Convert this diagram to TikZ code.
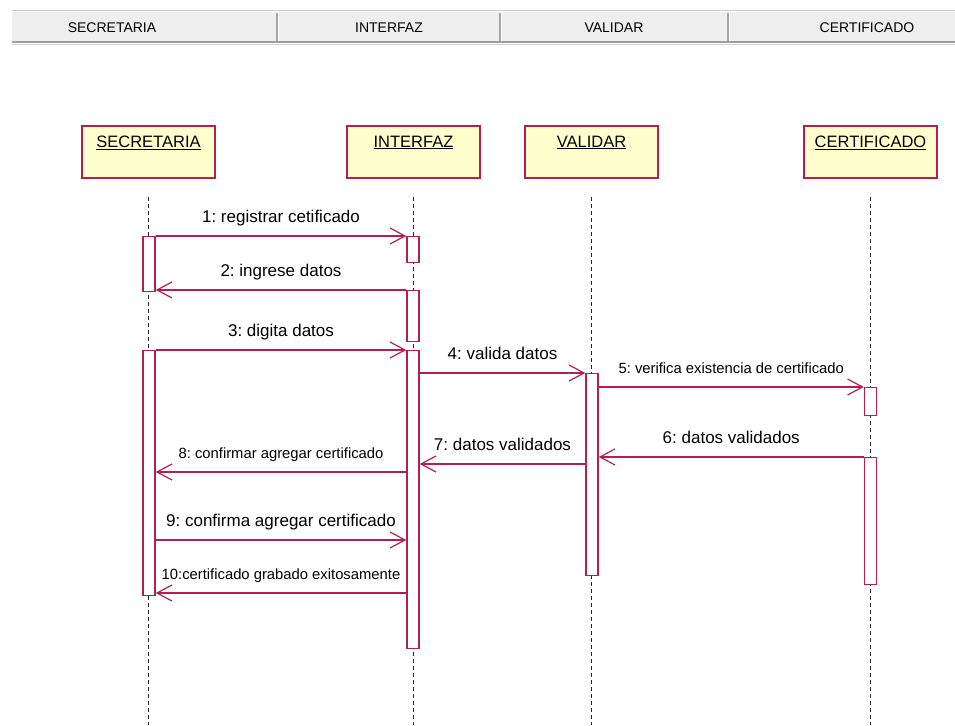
\documentclass[tikz,border=0pt]{standalone}
\usepackage{fontspec}
\setmainfont{Liberation Sans}
\usetikzlibrary{arrows.meta,positioning}
\frenchspacing

\definecolor{umlred}{RGB}{176,32,80}
\definecolor{umlyellow}{RGB}{255,255,206}
\definecolor{barbg}{RGB}{238,238,238}

\begin{document}
\begin{tikzpicture}[x=1pt,y=-1pt]

\tikzset{
  object/.style={draw=umlred,line width=1.5pt,fill=umlyellow,minimum width=133pt,minimum height=52pt,inner sep=0pt},
  objname/.style={font=\fontsize{16.5}{18}\selectfont,inner sep=0pt,anchor=base},
  lifeline/.style={draw=black!85,line width=1.5pt,dash pattern=on 4pt off 3pt},
  activation/.style={draw=umlred,line width=1.4pt,fill=white,minimum width=12pt,inner sep=0pt,anchor=north},
  msg/.style={draw=umlred,line width=1.4pt,-{Straight Barb[length=15pt,width=16pt,line width=1.2pt]}},
  msglabel/.style={font=\fontsize{17}{19}\selectfont,anchor=base,yshift=14pt,inner sep=0pt},
  smalllabel/.style={msglabel,font=\fontsize{14.8}{17}\selectfont},
  headtext/.style={font=\fontsize{14}{16}\selectfont,inner sep=0pt}
}

\useasboundingbox (0,0) rectangle (955,725);

%% Header bar
\fill[barbg] (12,12) rectangle (955,42);
\draw[gray!40,line width=1pt] (12,11) -- (955,11);
\draw[gray!75,line width=2pt] (12,42) -- (955,42);
\draw[gray!35,line width=1pt] (12,44.5) -- (955,44.5);
\foreach \x in {277,500,728}{
    \draw[gray!70,line width=1.2pt] (\x,13) -- (\x,41);
    \draw[white,line width=1pt] (\x+1.5,13) -- (\x+1.5,41);
}
\node[headtext] (hsec) at (112,27.5) {SECRETARIA};
\node[headtext] (hint) at (389,27.5) {INTERFAZ};
\node[headtext] (hval) at (614,27.5) {VALIDAR};
\node[headtext] (hcer) at (867,27.5) {CERTIFICADO};

%% Objects
\node[object] (sec) at (148.5,152) {};
\node[objname] (secname) at ([yshift=-22pt]sec.north) {\underline{SECRETARIA}};
\node[object] (int) at (413.5,152) {};
\node[objname] (intname) at ([yshift=-22pt]int.north) {\underline{INTERFAZ}};
\node[object] (val) at (591.5,152) {};
\node[objname] (valname) at ([yshift=-22pt]val.north) {\underline{VALIDAR}};
\node[object] (cer) at (870.5,152) {};
\node[objname] (cername) at ([yshift=-22pt]cer.north) {\underline{CERTIFICADO}};

%% Lifelines
\coordinate (bottom) at (0,725);
\foreach \o in {sec,int,val,cer}{
    \draw[lifeline] ([yshift=-18pt]\o.south) -- (\o.south |- bottom);
}

%% Activations
\node[activation,minimum height=55pt]  (sec1) at (149,236) {};
\node[activation,minimum height=245pt] (sec2) at (149,350) {};
\node[activation,minimum height=26pt]  (int1) at (413,236) {};
\node[activation,minimum height=51pt]  (int2) at (413,290) {};
\node[activation,minimum height=298pt] (int3) at (413,350) {};
\node[activation,minimum height=202pt] (val1) at (592,373) {};
\node[activation,minimum height=28pt]  (cer1) at (870.5,387) {};
\node[activation,minimum height=127pt] (cer2) at (870.5,457) {};

%% Messages
\coordinate (y7) at (0,464);
\coordinate (y8) at (0,472);
\coordinate (y9) at (0,540);
\coordinate (y10) at (0,593);

\draw[msg] (sec1.north east) -- (int1.north west)
    node[msglabel,midway] (m1) {1: registrar cetificado};
\draw[msg] (int2.north west) -- (sec1.east |- int2.north)
    node[msglabel,midway] (m2) {2: ingrese datos};
\draw[msg] (sec2.north east) -- (int3.north west)
    node[msglabel,midway] (m3) {3: digita datos};
\draw[msg] (int3.east |- val1.north) -- (val1.north west)
    node[msglabel,midway] (m4) {4: valida datos};
\draw[msg] (val1.east |- cer1.north) -- (cer1.north west)
    node[smalllabel,midway] (m5) {5: verifica existencia de certificado};
\draw[msg] (cer2.north west) -- (val1.east |- cer2.north)
    node[msglabel,midway] (m6) {6: datos validados};
\draw[msg] (val1.west |- y7) -- (int3.east |- y7)
    node[msglabel,midway] (m7) {7: datos validados};
\draw[msg] (int3.west |- y8) -- (sec2.east |- y8)
    node[smalllabel,midway] (m8) {8: confirmar agregar certificado};
\draw[msg] (sec2.east |- y9) -- (int3.west |- y9)
    node[msglabel,midway] (m9) {9: confirma agregar certificado};
\draw[msg] (int3.west |- y10) -- (sec2.east |- y10)
    node[smalllabel,midway] (m10) {10:certificado grabado exitosamente};

\end{tikzpicture}
\end{document}
